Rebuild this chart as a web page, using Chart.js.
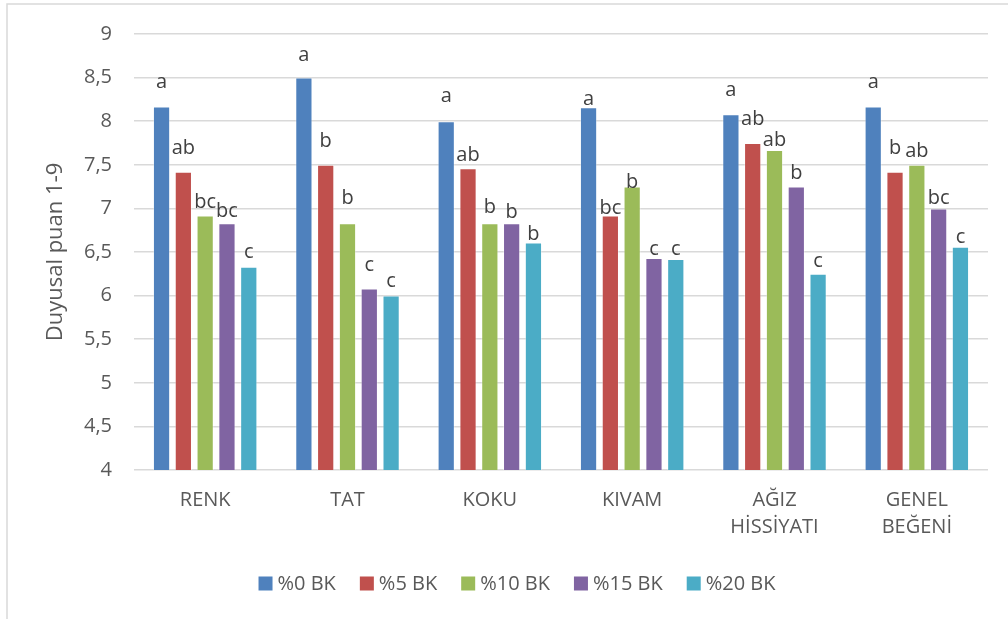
<!DOCTYPE html>
<html>
<head>
<meta charset="utf-8">
<script src="https://cdn.jsdelivr.net/npm/chart.js@4.4.1/dist/chart.umd.min.js"></script>
<style>
  html, body { margin: 0; padding: 0; background: #ffffff; }
  #wrap { width: 1008px; height: 619px; position: relative; }
</style>
</head>
<body>
<div id="wrap"><canvas id="c" width="1008" height="619"></canvas></div>
<script>
// Sensory attributes (x categories)
const categories = ['RENK', 'TAT', 'KOKU', 'KIVAM', ['AĞIZ', 'HİSSİYATI'], ['GENEL', 'BEĞENİ']];
const seriesNames = ['%0 BK', '%5 BK', '%10 BK', '%15 BK', '%20 BK'];

// Mean sensory scores per formulation
const bk0  = [8.17, 8.50, 8.00, 8.16, 8.08, 8.17];
const bk5  = [7.42, 7.50, 7.46, 6.92, 7.75, 7.42];
const bk10 = [6.92, 6.83, 6.83, 7.25, 7.67, 7.50];
const bk15 = [6.83, 6.08, 6.83, 6.43, 7.25, 7.00];
const bk20 = [6.33, 6.00, 6.61, 6.42, 6.25, 6.56];

// Significance letters above each bar
const letters0  = ['a', 'a', 'a', 'a', 'a', 'a'];
const letters5  = ['ab', 'b', 'ab', 'bc', 'ab', 'b'];
const letters10 = ['bc', 'b', 'b', 'b', 'ab', 'ab'];
const letters15 = ['bc', 'c', 'b', 'c', 'b', 'bc'];
const letters20 = ['c', 'c', 'b', 'c', 'c', 'c'];

// Y axis tick labels (decimal comma)
const yTickValues = [4, 4.5, 5, 5.5, 6, 6.5, 7, 7.5, 8, 8.5, 9];
const yTickLabels = ['4', '4,5', '5', '5,5', '6', '6,5', '7', '7,5', '8', '8,5', '9'];

// Layout: how far (px) each letter's baseline sits above its bar top
const letterLift = [
  [18, 17, 19, 2, 18, 18],
  [18, 18, 7, 1, 18, 18],
  [7, 19, 10, -1, 4, 8],
  [6, 18, 5, 3, 8, 4],
  [9, 9, 2, 4, 7, 4]
];

const colors = ['#4F81BD', '#C0504D', '#9BBB59', '#8064A2', '#4BACC6'];
const seriesValues = [bk0, bk5, bk10, bk15, bk20];
const seriesLetters = [letters0, letters5, letters10, letters15, letters20];
const FONT = '"Open Sans", "DejaVu Sans", sans-serif';
const TEXT_GRAY = '#595959';

const framePlugin = {
  id: 'frame',
  beforeDraw(chart) {
    const ctx = chart.ctx;
    ctx.save();
    ctx.fillStyle = '#ffffff';
    ctx.fillRect(0, 0, chart.width, chart.height);
    ctx.strokeStyle = '#d9d9d9';
    ctx.lineWidth = 1.5;
    ctx.beginPath();
    ctx.moveTo(7, chart.height);
    ctx.lineTo(7, 4);
    ctx.lineTo(chart.width, 4);
    ctx.stroke();
    ctx.restore();
  }
};

const letterPlugin = {
  id: 'letters',
  afterDatasetsDraw(chart) {
    const ctx = chart.ctx;
    ctx.save();
    ctx.font = '20px ' + FONT;
    ctx.fillStyle = '#404040';
    ctx.textAlign = 'center';
    ctx.textBaseline = 'alphabetic';
    chart.data.datasets.forEach((ds, i) => {
      const meta = chart.getDatasetMeta(i);
      meta.data.forEach((bar, j) => {
        ctx.fillText(seriesLetters[i][j], bar.x, bar.y - letterLift[i][j]);
      });
    });
    ctx.restore();
  }
};

const legendPlugin = {
  id: 'bottomLegend',
  afterDraw(chart) {
    const ctx = chart.ctx;
    ctx.save();
    ctx.font = '20px ' + FONT;
    const box = 14, boxGap = 5, itemGap = 24;
    const widths = seriesNames.map(t => ctx.measureText(t).width);
    let total = 0;
    widths.forEach((w, i) => { total += box + boxGap + w + (i < widths.length - 1 ? itemGap : 0); });
    let x = 517 - total / 2;
    const cy = 583.5;
    ctx.textBaseline = 'middle';
    ctx.textAlign = 'left';
    seriesNames.forEach((name, i) => {
      ctx.fillStyle = colors[i];
      ctx.fillRect(x, cy - box / 2, box, box);
      ctx.fillStyle = TEXT_GRAY;
      ctx.fillText(name, x + box + boxGap, cy + 1);
      x += box + boxGap + widths[i] + itemGap;
    });
    ctx.restore();
  }
};

new Chart(document.getElementById('c'), {
  type: 'bar',
  data: {
    labels: categories,
    datasets: seriesNames.map((name, i) => ({
      label: name,
      data: seriesValues[i],
      backgroundColor: colors[i],
      borderColor: 'rgba(255,255,255,0.35)',
      borderWidth: 1,
      categoryPercentage: 0.766,
      barPercentage: 0.79
    }))
  },
  options: {
    responsive: false,
    animation: false,
    devicePixelRatio: 1,
    layout: { padding: { left: 8, right: 20, top: 33, bottom: 49 } },
    plugins: {
      legend: { display: false },
      tooltip: { enabled: false }
    },
    scales: {
      x: {
        grid: { display: false, drawTicks: false },
        border: { display: false },
        ticks: {
          color: TEXT_GRAY,
          font: { family: FONT, size: 20, lineHeight: 1.38 },
          padding: 16,
          maxRotation: 0,
          autoSkip: false
        },
        afterFit(scale) { scale.height = 100; }
      },
      y: {
        min: 4,
        max: 9,
        afterBuildTicks(scale) { scale.ticks = yTickValues.map(v => ({ value: v })); },
        grid: { color: '#d9d9d9', lineWidth: 1.5, drawTicks: false },
        border: { display: false },
        ticks: {
          color: TEXT_GRAY,
          font: { family: FONT, size: 20 },
          padding: 22,
          callback(value) {
            const k = yTickValues.indexOf(value);
            return k >= 0 ? yTickLabels[k] : '';
          }
        },
        title: {
          display: true,
          text: 'Duyusal puan 1-9',
          color: TEXT_GRAY,
          font: { family: FONT, size: 22 },
          padding: { top: 35, bottom: 0 }
        },
        afterFit(scale) { scale.width = 126; }
      }
    }
  },
  plugins: [framePlugin, letterPlugin, legendPlugin]
});
</script>
</body>
</html>
